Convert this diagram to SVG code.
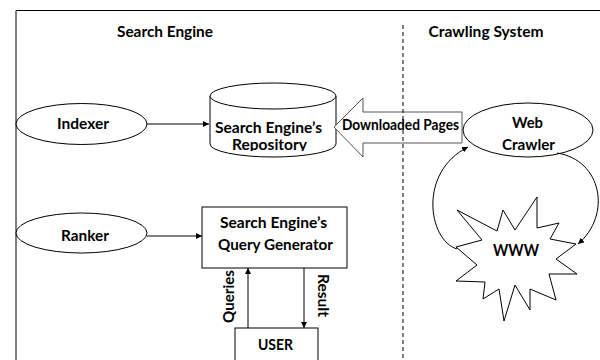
<svg xmlns="http://www.w3.org/2000/svg" width="600" height="360" viewBox="0 0 600 360">
<style>
.t{font-family:Lato,"Liberation Sans",sans-serif;font-weight:bold;font-size:15.5px;fill:#000}
.m{text-anchor:middle}
.s{fill:#fff;stroke:#000;stroke-width:1}
.c{fill:none;stroke:#000;stroke-width:1}
</style>
<defs>
<marker id="ah" viewBox="0 0 10 10" refX="10" refY="5" markerWidth="6" markerHeight="6" orient="auto" markerUnits="userSpaceOnUse">
<path d="M0,0 L10,5 L0,10 z" fill="#000"/>
</marker>
<clipPath id="cylclip"><rect x="200" y="80" width="150" height="71"/></clipPath>
</defs>
<rect width="600" height="360" fill="#fff"/>
<g id="frame">
<path d="M16,360 L16,10.5 L600,10.5" class="c"/>
</g>
<text class="t m" x="165" y="37" textLength="96" lengthAdjust="spacingAndGlyphs">Search Engine</text>
<text class="t m" x="486" y="37" textLength="115" lengthAdjust="spacingAndGlyphs">Crawling System</text>

<g id="indexer">
<ellipse cx="81.5" cy="124" rx="65.5" ry="20.5" class="s"/>
<text class="t m" x="83" y="129" textLength="52" lengthAdjust="spacingAndGlyphs">Indexer</text>
</g>
<g id="repository">
<path d="M210,96 L210,144 A63,13 0 0 0 336,144 L336,96" class="s"/>
<ellipse cx="273" cy="96" rx="63" ry="13" class="s"/>
<text class="t m" x="268.5" y="133" textLength="107" lengthAdjust="spacingAndGlyphs">Search Engine’s</text>
<text class="t m" x="269.5" y="150" clip-path="url(#cylclip)" textLength="75" lengthAdjust="spacingAndGlyphs">Repository</text>
</g>
<g id="downloaded-pages">
<polygon points="334,127 363,98 363,112 462,112 462,143 363,143 363,157" fill="#fff" stroke="#555" stroke-width="1"/>
</g>
<g id="web-crawler">
<ellipse cx="528" cy="130" rx="65" ry="27" class="s"/>
<text class="t m" x="527.5" y="128" textLength="31" lengthAdjust="spacingAndGlyphs">Web</text>
<text class="t m" x="528.5" y="150" textLength="53" lengthAdjust="spacingAndGlyphs">Crawler</text>
</g>
<g id="ranker">
<ellipse cx="81.5" cy="233" rx="65.5" ry="20" class="s"/>
<text class="t m" x="85" y="241" textLength="48" lengthAdjust="spacingAndGlyphs">Ranker</text>
</g>
<g id="query-generator">
<rect x="202" y="207" width="145" height="61" class="s"/>
<text class="t m" x="273.5" y="228" textLength="107" lengthAdjust="spacingAndGlyphs">Search Engine’s</text>
<text class="t m" x="275.5" y="250" textLength="115" lengthAdjust="spacingAndGlyphs">Query Generator</text>
</g>
<g id="user">
<rect x="235" y="328" width="83" height="50" class="s"/>
<text class="t m" x="275.5" y="350" textLength="35" lengthAdjust="spacingAndGlyphs">USER</text>
</g>
<g id="www">
<polygon points="457,210 497,231 503,210 515,230 537,197 537,228 559,223 550,239 576,244 556,259 577,274 549,274 556,300 530,289 530,310 515,285 504,321 499,289 483,299 485,282 456,281 477,265 456,247 482,240" class="s"/>
<text class="t m" x="516" y="256" textLength="46" lengthAdjust="spacingAndGlyphs" style="font-size:17px">WWW</text>
</g>
<g id="divider">
<line x1="403" y1="25" x2="403" y2="360" stroke="#000" stroke-width="1" stroke-dasharray="4,3"/>
</g>
<text class="t m" x="400.5" y="130" textLength="117" lengthAdjust="spacingAndGlyphs">Downloaded Pages</text>

<g id="connectors">
<line x1="147" y1="124" x2="209" y2="124" class="c" marker-end="url(#ah)"/>
<line x1="147" y1="236" x2="202" y2="236" class="c" marker-end="url(#ah)"/>
<line x1="248" y1="328" x2="248" y2="268" class="c" marker-end="url(#ah)"/>
<line x1="304" y1="268" x2="304" y2="328" class="c" marker-end="url(#ah)"/>
<path d="M457,249 C428,240 418,172 468,147" class="c" marker-end="url(#ah)"/>
<path d="M557,153 C602,160 612,215 578,244" class="c" marker-end="url(#ah)"/>
<text class="t m" transform="translate(234,296.5) rotate(-90)" textLength="53" lengthAdjust="spacingAndGlyphs">Queries</text>
<text class="t m" transform="translate(318,295.5) rotate(90)" textLength="43" lengthAdjust="spacingAndGlyphs">Result</text>
</g>
</svg>
